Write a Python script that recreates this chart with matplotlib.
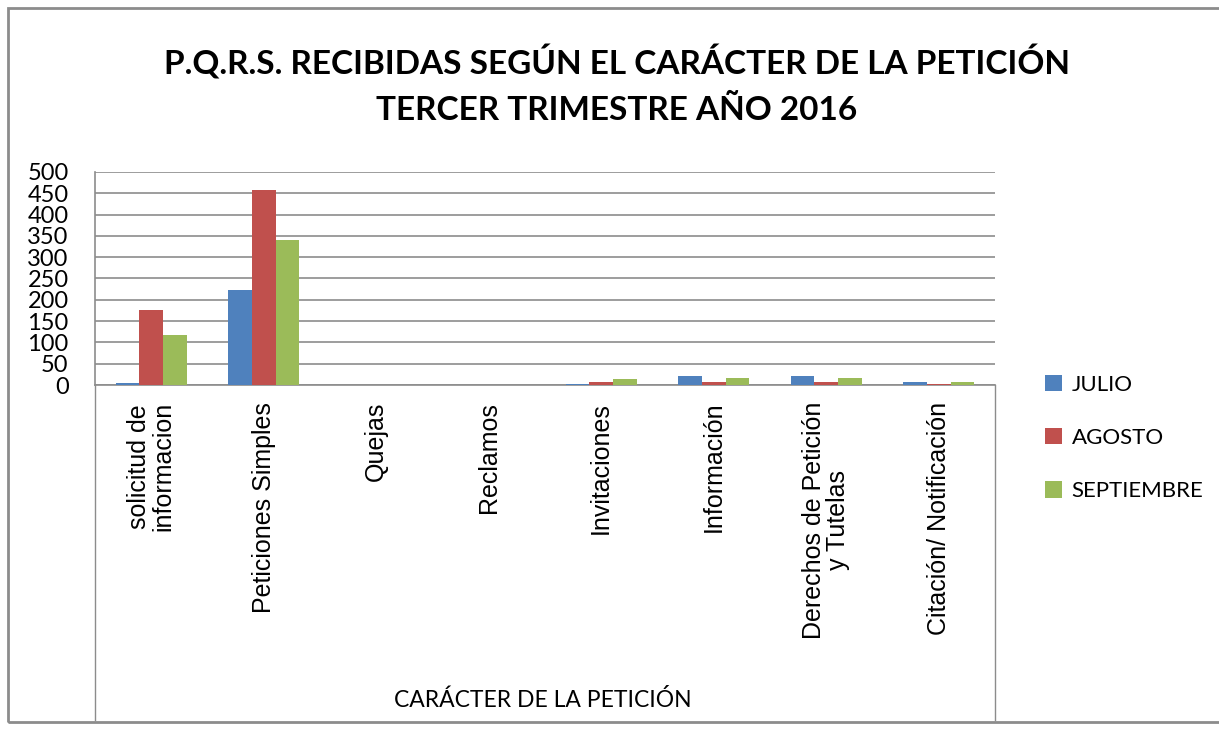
import numpy as np
import matplotlib.pyplot as plt
from matplotlib.lines import Line2D
from matplotlib.patches import Rectangle

# Datos del gráfico
categorias = ['solicitud de\ninformacion', 'Peticiones Simples', 'Quejas', 'Reclamos',
              'Invitaciones', 'Información', 'Derechos de Petición\ny Tutelas',
              'Citación/ Notificación']
julio = [5, 224, 0, 0, 3, 21, 21, 7]
agosto = [177, 457, 0, 0, 6, 6, 6, 3]
septiembre = [118, 341, 0, 0, 14, 17, 17, 6]
series = ['JULIO', 'AGOSTO', 'SEPTIEMBRE']
colores = ['#4F81BD', '#C0504D', '#9BBB59']

fig = plt.figure(figsize=(12.19, 7.30), dpi=100)
ax = fig.add_axes([95 / 1219, 1 - 385 / 730, 900 / 1219, 213 / 730])

x = np.arange(len(categorias))
ancho = 0.21
for i, (vals, nombre) in enumerate(zip([julio, agosto, septiembre], series)):
    ax.bar(x + (i - 1) * ancho, vals, ancho, color=colores[i], label=nombre, zorder=3)

ax.set_xlim(-0.5, len(categorias) - 0.5)
ax.set_ylim(0, 500)
ax.set_yticks(range(0, 501, 50))
ax.grid(axis='y', color='#8c8c8c', linewidth=1.2, zorder=0)
for s in ['top', 'right']:
    ax.spines[s].set_visible(False)
ax.spines['left'].set_color('#8c8c8c')
ax.spines['bottom'].set_color('#8c8c8c')
ax.spines['left'].set_linewidth(1.2)
ax.spines['bottom'].set_linewidth(1.2)
ax.tick_params(axis='y', length=0, pad=19, labelsize=17)
for t in ax.get_yticklabels():
    t.set_fontfamily('Lato')
ax.tick_params(axis='x', length=0, pad=12)
ax.set_xticks(x)
ax.set_xticklabels(categorias, rotation=90, fontsize=18, family='Liberation Sans',
                   va='top', ha='center', multialignment='center', linespacing=1.0)

# líneas verticales del área de categorías
for xf in [95 / 1219, 995 / 1219]:
    fig.add_artist(Line2D([xf, xf], [1 - 385 / 730, 1 - 720 / 730], color='#8c8c8c', linewidth=1))

fig.text(543 / 1219, 1 - 700 / 730, 'CARÁCTER DE LA PETICIÓN', ha='center', va='center',
         fontsize=16.5, family='Lato')

fig.text(617 / 1219, 1 - 62 / 730, 'P.Q.R.S. RECIBIDAS SEGÚN EL CARÁCTER DE LA PETICIÓN',
         ha='center', va='center', fontsize=24, fontweight='bold', family='Lato')
fig.text(617 / 1219, 1 - 110 / 730, 'TERCER TRIMESTRE AÑO 2016',
         ha='center', va='center', fontsize=24, fontweight='bold', family='Lato')

ax.legend(loc='center left', bbox_to_anchor=(1025 / 1219, 1 - 438 / 730),
          bbox_transform=fig.transFigure, frameon=False, prop={'family': 'Lato', 'size': 16},
          handlelength=0.75, handleheight=0.75, labelspacing=1.5, handletextpad=0.45)

# marco exterior
fig.add_artist(Rectangle((8 / 1219, 1 - 722 / 730), 1.2, 714 / 730, fill=False,
                         edgecolor='#8c8c8c', linewidth=2, transform=fig.transFigure))

plt.savefig('out.png', dpi=100)
